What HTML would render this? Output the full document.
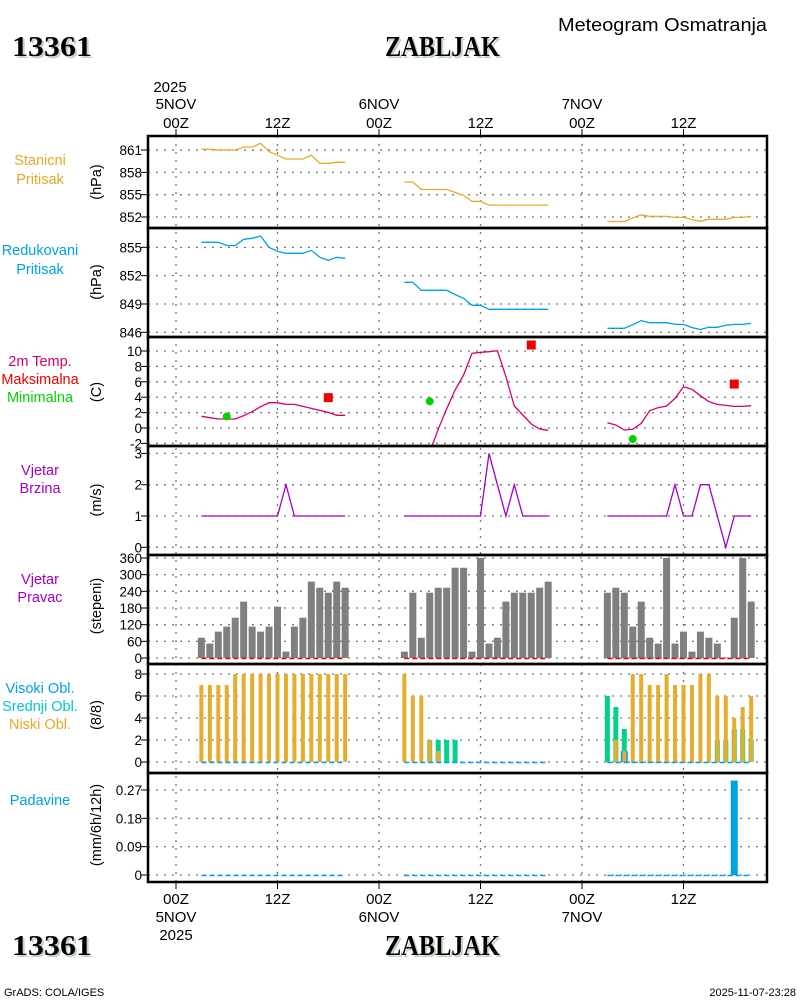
<!DOCTYPE html>
<html><head><meta charset="utf-8">
<style>
html,body{margin:0;padding:0;background:#fff;}
svg{display:block;font-family:"Liberation Sans",sans-serif;}
.t{font-size:14.5px;}
.tk{font-size:13.5px;fill:#000;text-anchor:end;}
</style></head>
<body>
<svg id="chart" width="800" height="1000" viewBox="0 0 800 1000" xmlns="http://www.w3.org/2000/svg">
<defs>
<filter id="sh" x="-10%" y="-10%" width="130%" height="140%"><feOffset dx="2" dy="2" in="SourceAlpha" result="o"/><feFlood flood-color="#c4d2c4"/><feComposite in2="o" operator="in" result="s"/><feMerge><feMergeNode in="s"/><feMergeNode in="SourceGraphic"/></feMerge></filter>
</defs>
<text x="558" y="31" textLength="209" lengthAdjust="spacingAndGlyphs" style="font-size:18px">Meteogram Osmatranja</text>
<text x="12" y="56" textLength="80" lengthAdjust="spacingAndGlyphs" filter="url(#sh)" style="font-family:'Liberation Serif',serif;font-weight:bold;font-size:28px">13361</text>
<text x="385" y="56" textLength="115" lengthAdjust="spacingAndGlyphs" filter="url(#sh)" style="font-family:'Liberation Serif',serif;font-weight:bold;font-size:28px">ZABLJAK</text>
<text x="12" y="955" textLength="80" lengthAdjust="spacingAndGlyphs" filter="url(#sh)" style="font-family:'Liberation Serif',serif;font-weight:bold;font-size:28px">13361</text>
<text x="385" y="955" textLength="115" lengthAdjust="spacingAndGlyphs" filter="url(#sh)" style="font-family:'Liberation Serif',serif;font-weight:bold;font-size:28px">ZABLJAK</text>
<text x="4" y="996" style="font-size:11px">GrADS: COLA/IGES</text>
<text x="796" y="996" text-anchor="end" style="font-size:11px">2025-11-07-23:28</text>
<g id="grid"></g>
<g id="marks"></g>
<g id="frames"></g>
<g id="labels"></g>
</svg>
<script>
const segStarts = [3, 27, 51];
const stationP = [
 [861.1,861.1,861.0,861.0,861.0,861.4,861.4,861.9,860.8,860.3,859.8,859.8,859.8,860.3,859.2,859.2,859.35,859.35],
 [856.7,856.7,855.7,855.7,855.7,855.7,855.3,854.9,854.1,854.1,853.6,853.6,853.6,853.6,853.6,853.6,853.6,853.6],
 [851.4,851.4,851.4,851.87,852.3,852.08,852.08,852.08,851.95,851.95,851.65,851.42,851.7,851.7,851.7,851.95,851.95,852.08]];
const reducedP = [
 [855.53,855.53,855.53,855.2,855.2,855.85,855.96,856.2,855.0,854.58,854.37,854.37,854.37,854.69,853.95,853.63,853.95,853.84],
 [851.3,851.3,850.45,850.45,850.45,850.45,850.0,849.6,848.86,848.86,848.44,848.44,848.44,848.44,848.44,848.44,848.44,848.44],
 [846.42,846.42,846.42,846.8,847.23,847.02,847.02,847.02,846.84,846.84,846.5,846.3,846.53,846.53,846.74,846.84,846.84,846.95]];
const temp = [
 [1.52,1.34,1.17,1.17,1.17,1.6,2.12,2.77,3.29,3.29,3.07,3.07,2.81,2.55,2.29,2.03,1.65,1.65],
 [-4.0,-4.5,-4.0,-3.1,-0.17,2.51,4.94,6.88,9.7,9.83,9.91,10.04,6.67,2.86,1.69,0.52,-0.13,-0.3],
 [0.69,0.39,-0.26,-0.17,0.6,2.25,2.64,2.86,3.85,5.37,5.02,4.2,3.42,3.07,2.94,2.81,2.81,2.9]];
const maxHours = [18, 42, 66];
const maxTemp = [3.94, 10.78, 5.71];
const minHours = [6, 30, 54];
const minTemp = [1.5, 3.46, -1.43];
const windSpeed = [
 [1,1,1,1,1,1,1,1,1,1,2,1,1,1,1,1,1,1],
 [1,1,1,1,1,1,1,1,1,1,3,2,1,2,1,1,1,1],
 [1,1,1,1,1,1,1,1,2,1,1,2,2,1,0,1,1,1]];
const windDir = [
 [73,52,95,113,145,203,113,95,113,185,23,113,145,275,253,235,275,253],
 [23,235,73,235,253,253,325,325,23,360,52,73,203,235,235,235,253,275],
 [235,253,235,113,203,73,52,360,52,95,23,95,73,52,2,145,360,203]];
const cloudHigh = [
 [0,0,0,0,0,0,0,0,0,0,0,0,0,0,0,0,0,0],
 [0,0,0,0,0,0,0,0,0,0,0,0,0,0,0,0,0,0],
 [0,0,1,0,0,0,0,0,0,0,0,0,0,0,0,0,0,0]];
const cloudMid = [
 [0,0,0,0,0,0,0,0,0,0,0,0,0,0,0,0,0,0],
 [0,0,0,2,2,2,2,0,0,0,0,0,0,0,0,0,0,0],
 [6,5,3,0,0,0,0,0,0,0,0,0,0,2,2,3,3,2]];
const cloudLow = [
 [7,7,7,7,8,8,8,8,8,8,8,8,8,8,8,8,8,8],
 [8,6,6,2,1,0,0,0,0,0,0,0,0,0,0,0,0,0],
 [0,2,1,8,8,7,7,8,7,7,7,8,8,6,6,4,5,6]];
const precip = [
 [0,0,0,0,0,0,0,0,0,0,0,0,0,0,0,0,0,0],
 [0,0,0,0,0,0,0,0,0,0,0,0,0,0,0,0,0,0],
 [0,0,0,0,0,0,0,0,0,0,0,0,0,0,0,0.30,0,0]];
const timeTicks = [0, 12, 24, 36, 48, 60];
const timeLabels = ["00Z","12Z","00Z","12Z","00Z","12Z"];
const dayLabels = ["5NOV","","6NOV","","7NOV",""];
const p1Ticks = [861,858,855,852];
const p2Ticks = [855,852,849,846];
const p3Ticks = [10,8,6,4,2,0,-2];
const p4Ticks = [3,2,1,0];
const p5Ticks = [360,300,240,180,120,60,0];
const p6Ticks = [8,6,4,2,0];
const p7Ticks = [0.27,0.18,0.09,0];
const p7TickLabels = ["0.27","0.18","0.09","0"];

const NS="http://www.w3.org/2000/svg";
const X0=148, X1=767;
const xOf = h => 176 + h*101.5/12;
const panels = [
 {top:136,bot:228, y:v=>217-(v-852)*7.44},
 {top:228,bot:337, y:v=>332.3-(v-846)*9.44},
 {top:337,bot:446, y:v=>428-v*7.7},
 {top:446,bot:555, y:v=>547.3-v*31.3},
 {top:555,bot:664, y:v=>658-v*100/360},
 {top:664,bot:773, y:v=>762-v*11},
 {top:773,bot:882, y:v=>875-v*28.33/0.09}];
function mk(tag, attrs, parent){const e=document.createElementNS(NS,tag);for(const k in attrs)e.setAttribute(k,attrs[k]);parent.appendChild(e);return e;}
const G=document.getElementById('grid'), M=document.getElementById('marks'), F=document.getElementById('frames'), L=document.getElementById('labels');
const defs=document.querySelector('defs');
panels.forEach((p,i)=>{const c=mk('clipPath',{id:'clip'+i},defs);mk('rect',{x:X0,y:p.top,width:X1-X0,height:p.bot-p.top},c);});

const tickSets=[p1Ticks,p2Ticks,p3Ticks,p4Ticks,p5Ticks,p6Ticks,p7Ticks];
panels.forEach((p,i)=>{
  tickSets[i].forEach((v,j)=>{
    const y=p.y(v);
    const g=mk('line',{x1:X0,x2:X1,y1:y,y2:y,stroke:'#777','stroke-width':1.3,'stroke-dasharray':'2 6'},G);
    
    
    const t=mk('line',{x1:X0-7,x2:X0,y1:y,y2:y,stroke:'#000','stroke-width':1},F);
    
    
    const lab=mk('text',{x:X0-6,y:y+5,class:'tk'},L);
    lab.textContent = i===6 ? p7TickLabels[j] : String(v);
    
    
  });
});
timeTicks.forEach((h,i)=>{
  const x=xOf(h);
  const g=mk('line',{x1:x,x2:x,y1:136,y2:882,stroke:'#777','stroke-width':1.3,'stroke-dasharray':'2 6'},G);
  
  
  const t1=mk('line',{x1:x,x2:x,y1:129,y2:136,stroke:'#000','stroke-width':1},F);
  
  
  const t2=mk('line',{x1:x,x2:x,y1:882,y2:889,stroke:'#000','stroke-width':1},F);
  
  
  const a=mk('text',{x:x,y:128,'text-anchor':'middle',style:'font-size:15px'},L);
  a.textContent=timeLabels[i];
  
  
  const b=mk('text',{x:x,y:904,'text-anchor':'middle',style:'font-size:15px'},L);
  b.textContent=timeLabels[i];
  
  
  if(dayLabels[i]){
    const d1=mk('text',{x:x,y:109,'text-anchor':'middle',style:'font-size:15px'},L);
    d1.textContent=dayLabels[i];
    
    
    const d2=mk('text',{x:x,y:922,'text-anchor':'middle',style:'font-size:15px'},L);
    d2.textContent=dayLabels[i];
    
    
  }
});
const y1=mk('text',{x:xOf(0)-6,y:92,'text-anchor':'middle',style:'font-size:15px'},L);
y1.textContent='2025';


const y2=mk('text',{x:xOf(0),y:940,'text-anchor':'middle',style:'font-size:15px'},L);
y2.textContent='2025';



panels.forEach((p,i)=>{
  const r=mk('rect',{x:X0,y:p.top,width:X1-X0,height:p.bot-p.top,fill:'none',stroke:'#000','stroke-width':2.5},F);
  
  
});

const sideLabels=[
 [[ 'Stanicni',165,'#e6a828'],['Pritisak',184,'#e6a828']],
 [[ 'Redukovani',255,'#00a0e6'],['Pritisak',274,'#00a0e6']],
 [[ '2m Temp.',366,'#d4006a'],['Maksimalna',384,'#f00000'],['Minimalna',402,'#00d200']],
 [[ 'Vjetar',475,'#a000c8'],['Brzina',493,'#a000c8']],
 [[ 'Vjetar',584,'#a000c8'],['Pravac',602,'#a000c8']],
 [[ 'Visoki Obl.',693,'#00a0e6'],['Srednji Obl.',711,'#00c8c8'],['Niski Obl.',729,'#e6a828']],
 [[ 'Padavine',805,'#00a0e6']]];
sideLabels.forEach(group=>group.forEach(([s,y,c])=>{
  const t=mk('text',{x:40,y:y,'text-anchor':'middle',fill:c,class:'t'},L);
  t.textContent=s;
  
  
}));
const units=[['(hPa)',182],['(hPa)',282],['(C)',392],['(m/s)',500],['(stepeni)',606],['(8/8)',715],['(mm/6h/12h)',825]];
units.forEach(([s,y])=>{
  const t=mk('text',{x:0,y:0,'text-anchor':'middle',class:'t',transform:`translate(101 ${y}) rotate(-90)`},L);
  t.textContent=s;
  
  
});

function line(series, pi, color, name){
  const p=panels[pi];
  series.forEach((seg,s)=>{
    const pts=seg.map((v,k)=>xOf(segStarts[s]+k).toFixed(1)+','+p.y(v).toFixed(1)).join(' ');
    const e=mk('polyline',{points:pts,fill:'none',stroke:color,'stroke-width':1.3,'clip-path':`url(#clip${pi})`},M);
    
    
  });
}
line(stationP,0,'#e6a828','station-pressure-line');
line(reducedP,1,'#00a0e6','reduced-pressure-line');
line(temp,2,'#d4006a','temperature-line');
line(windSpeed,3,'#a000c8','wind-speed-line');

maxHours.forEach((h,i)=>{
  const e=mk('rect',{x:xOf(h)-4.5,y:panels[2].y(maxTemp[i])-4.5,width:9,height:9,fill:'#f00000'},M);
  
  
});
minHours.forEach((h,i)=>{
  const e=mk('circle',{cx:xOf(h),cy:panels[2].y(minTemp[i]),r:4,fill:'#00d200'},M);
  
  
});

function bars(series, pi, color, w, name){
  const p=panels[pi];
  series.forEach((seg,s)=>seg.forEach((v,k)=>{
    if(v<=0) return;
    const x=xOf(segStarts[s]+k), y=p.y(v);
    const e=mk('rect',{x:x-w/2,y:y,width:w,height:p.y(0)-y,fill:color,'clip-path':`url(#clip${pi})`},M);
    
    
  }));
}
function baseline(pi,color,name){
  const p=panels[pi];
  segStarts.forEach((h0,s)=>{
    const e=mk('line',{x1:xOf(h0),x2:xOf(h0+17),y1:p.y(0)+0.5,y2:p.y(0)+0.5,stroke:color,'stroke-width':1.5,'stroke-dasharray':'5 3'},M);
    
    
  });
}
bars(windDir,4,'#7f7f7f',7,'wind-direction-bar');
baseline(4,'#f00000','wind-direction-baseline');
bars(cloudMid,5,'#00d28c',5,'mid-cloud-bar');
bars(cloudHigh,5,'#00a0e6',7,'high-cloud-bar');
bars(cloudLow,5,'#e6ac2e',4,'low-cloud-bar');
baseline(5,'#00a0e6','cloud-baseline');
bars(precip,6,'#00a0e6',7,'precipitation-bar');
baseline(6,'#00a0e6','precipitation-baseline');
</script>
</body></html>
